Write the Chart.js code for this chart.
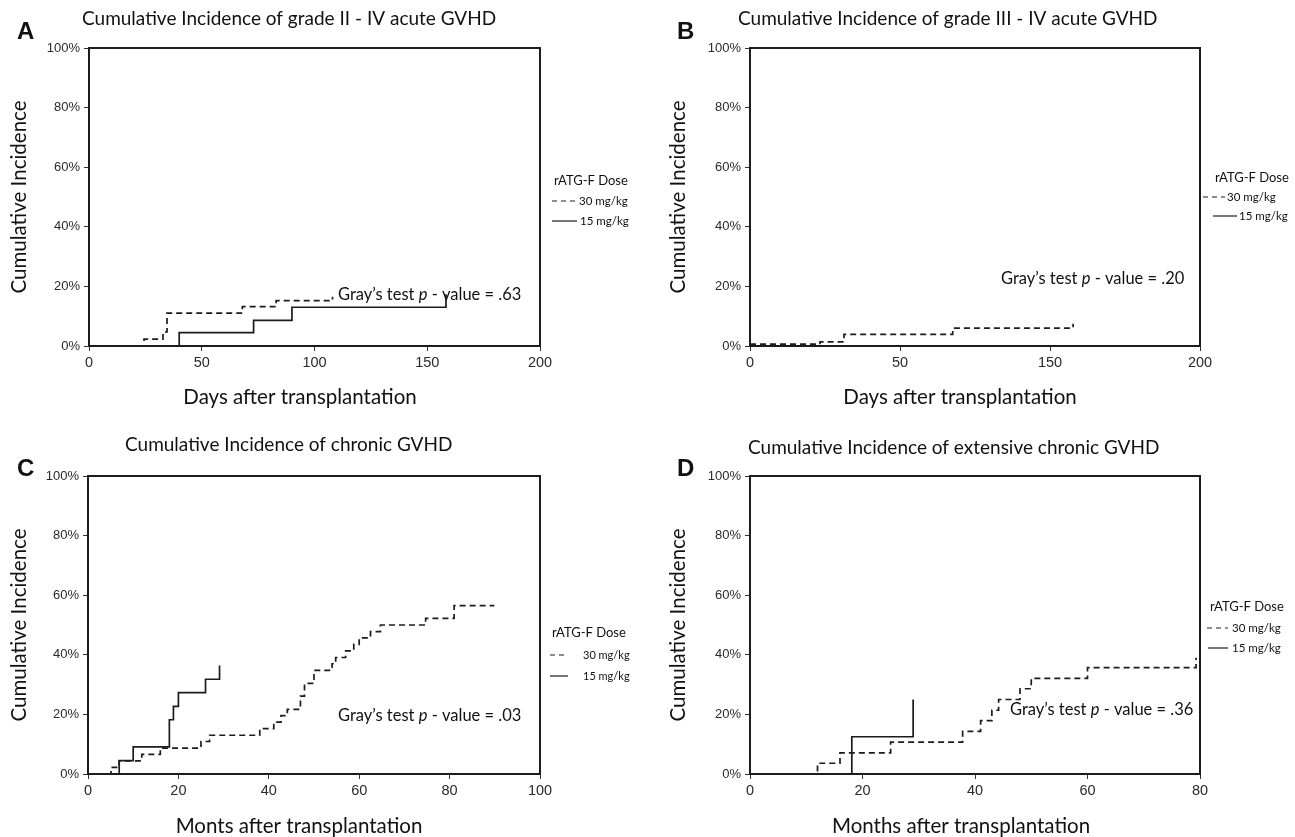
<!DOCTYPE html>
<html>
<head>
<meta charset="utf-8">
<title>Cumulative Incidence of GVHD</title>
<script src="https://cdn.jsdelivr.net/npm/chart.js@4.4.1/dist/chart.umd.min.js"></script>
<style>
  html, body { margin: 0; padding: 0; background: #fff; }
  #board { position: relative; width: 1295px; height: 837px; overflow: hidden; }
  #board canvas { position: absolute; }
</style>
</head>
<body>
<div id="board">
  <canvas id="panelA" width="648" height="418" style="left:0;top:0"></canvas>
  <canvas id="panelB" width="647" height="418" style="left:648px;top:0"></canvas>
  <canvas id="panelC" width="648" height="419" style="left:0;top:418px"></canvas>
  <canvas id="panelD" width="647" height="419" style="left:648px;top:418px"></canvas>
</div>
<script>
// Panel A - grade II-IV acute GVHD (days, %)
const aDays30 = [0, 24.4, 32.8, 34.6, 68, 83, 108];
const aCum30  = [0, 2.3, 4.7, 11, 13.2, 15.2, 16.5];
const aDays15 = [0, 40, 73, 90, 158.3];
const aCum15  = [0, 4.5, 8.6, 13, 17.4];

// Panel B - grade III-IV acute GVHD (axis units, %)
const bDays30 = [0, 31.1, 41.8, 90.1, 143.6];
const bCum30  = [0.6, 1.4, 3.9, 6, 7.5];
const bDays15 = [0, 143.6];
const bCum15  = [0, 0];
const bTickLabels = ['0', '50', '150', '200'];

// Panel C - chronic GVHD (months, %)
const cMonths30 = [0, 5.1, 6.9, 11.9, 16, 25, 26.9, 38, 41.1, 42.7, 44.1, 47, 47.9, 50, 54, 54.8, 57, 58.8, 60, 62.5, 64.7, 74.7, 81, 89.9];
const cCum30    = [0, 2.2, 4.4, 6.6, 8.7, 10.9, 13, 15.2, 17.4, 19.6, 21.7, 26.1, 30.4, 34.8, 37, 39.1, 41.3, 43.5, 45.7, 47.8, 50, 52.2, 56.5, 56.5];
const cMonths15 = [0, 6.9, 10, 18, 18.9, 20, 26, 29.1];
const cCum15    = [0, 4.5, 9.1, 18.2, 22.7, 27.3, 31.8, 36.4];

// Panel D - extensive chronic GVHD (months, %)
const dMonths30 = [0, 12, 16, 25, 37.8, 41, 43, 44.2, 48, 50, 60, 79.3];
const dCum30    = [0, 3.6, 7.1, 10.7, 14.3, 17.9, 21.4, 25, 28.6, 32.1, 35.7, 39];
const dMonths15 = [0, 18.1, 29];
const dCum15    = [0, 12.5, 25];

const doseLabels = ['30 mg/kg', '15 mg/kg'];
const legendTitle = 'rATG-F Dose';
const yTitle = 'Cumulative Incidence';
const pValues = ['.63', '.20', '.03', '.36'];
const yTicks = [0, 20, 40, 60, 80, 100];

const INK = '#1c1c1c';
const TEXT_FONT = 'Lato, "Open Sans", sans-serif';
const TICK_FONT = '"Liberation Sans", Arial, sans-serif';

// turn event times + cumulative values into a step path
function stepPoints(xs, ys) {
  const pts = [{ x: xs[0], y: ys[0] }];
  for (let i = 1; i < xs.length; i++) {
    pts.push({ x: xs[i], y: ys[i - 1] });
    pts.push({ x: xs[i], y: ys[i] });
  }
  return pts;
}

// frame, panel letter, title, x title, legend and test annotation
const panelText = {
  id: 'panelText',
  afterDraw(chart, args, o) {
    const ctx = chart.ctx;
    const a = chart.chartArea;
    ctx.save();
    ctx.strokeStyle = INK;
    ctx.lineWidth = 2;
    ctx.setLineDash([]);
    ctx.strokeRect(a.left, a.top, a.right - a.left, a.bottom - a.top);

    ctx.fillStyle = '#111';
    ctx.textBaseline = 'middle';
    ctx.textAlign = 'left';
    ctx.font = 'bold 24px "Liberation Sans", Arial, sans-serif';
    ctx.fillText(o.letter, o.letterPos[0], o.letterPos[1]);

    ctx.font = '19px ' + TEXT_FONT;
    ctx.fillText(o.title, o.titlePos[0], o.titlePos[1]);

    ctx.textAlign = 'center';
    ctx.font = '20.5px ' + TEXT_FONT;
    ctx.fillText(o.xTitle, o.xTitlePos[0], o.xTitlePos[1]);

    // legend
    ctx.textAlign = 'left';
    ctx.font = '13px ' + TEXT_FONT;
    ctx.fillText(legendTitle, o.legend.head[0], o.legend.head[1]);
    ctx.font = o.legend.itemFont + 'px ' + TEXT_FONT;
    chart.data.datasets.forEach((ds, i) => {
      const r = o.legend.rows[i];
      ctx.beginPath();
      ctx.setLineDash(ds.borderDash ? [5, 4] : []);
      ctx.lineWidth = 1.2;
      ctx.strokeStyle = INK;
      ctx.moveTo(r[0], r[3]);
      ctx.lineTo(r[1], r[3]);
      ctx.stroke();
      ctx.fillText(ds.label, r[2], r[3]);
    });
    ctx.setLineDash([]);

    // Gray's test with italic p
    const parts = [['Gray\u2019s test ', ''], ['p', 'italic '], [' - value = ' + o.p, '']];
    let x = o.pPos[0];
    parts.forEach(([t, style]) => {
      ctx.font = style + '16.5px ' + TEXT_FONT;
      ctx.fillText(t, x, o.pPos[1]);
      x += ctx.measureText(t).width;
    });
    ctx.restore();
  }
};

function buildPanel(id, cfg) {
  const canvas = document.getElementById(id);
  const W = canvas.width, H = canvas.height;
  const area = cfg.area;
  const xTicks = cfg.xTickLabels
    ? cfg.xTickLabels.map((_, i) => cfg.xMax * i / (cfg.xTickLabels.length - 1))
    : null;

  new Chart(canvas, {
    type: 'line',
    data: {
      datasets: [
        {
          label: doseLabels[0],
          data: stepPoints(cfg.x30, cfg.y30),
          borderDash: [6, 4],
          borderColor: INK,
          borderWidth: 1.7
        },
        {
          label: doseLabels[1],
          data: stepPoints(cfg.x15, cfg.y15),
          borderColor: INK,
          borderWidth: 1.7
        }
      ]
    },
    options: {
      responsive: false,
      animation: false,
      devicePixelRatio: 1,
      layout: { padding: { left: 0, top: area.top, right: W - area.right, bottom: 0 } },
      elements: { point: { radius: 0 }, line: { tension: 0 } },
      plugins: {
        legend: { display: false },
        tooltip: { enabled: false },
        panelText: cfg.text
      },
      scales: {
        x: {
          type: 'linear',
          min: 0,
          max: cfg.xMax,
          afterFit: s => { s.height = H - area.bottom; },
          afterBuildTicks: s => {
            if (xTicks) s.ticks = xTicks.map(v => ({ value: v }));
          },
          grid: { display: true, drawOnChartArea: false, tickLength: 5, color: '#333' },
          border: { display: true, color: INK, width: 2 },
          ticks: {
            stepSize: cfg.xStep,
            autoSkip: false,
            maxRotation: 0,
            padding: 3,
            color: '#2a2a2a',
            font: { family: TICK_FONT, size: 14.5 },
            callback: (v, i) => cfg.xTickLabels ? cfg.xTickLabels[i] : v
          }
        },
        y: {
          min: 0,
          max: 100,
          afterFit: s => { s.width = area.left; },
          afterBuildTicks: s => { s.ticks = yTicks.map(v => ({ value: v })); },
          grid: { display: true, drawOnChartArea: false, tickLength: 5, color: '#333' },
          border: { display: true, color: INK, width: 2 },
          ticks: {
            padding: 4,
            color: '#2a2a2a',
            font: { family: TICK_FONT, size: 13 },
            callback: v => v + '%'
          },
          title: {
            display: true,
            text: yTitle,
            color: '#111',
            font: { family: 'Lato, "Open Sans", sans-serif', size: 20.5 },
            padding: { top: cfg.yTitlePad }
          }
        }
      }
    },
    plugins: [panelText]
  });
}

buildPanel('panelA', {
  x30: aDays30, y30: aCum30, x15: aDays15, y15: aCum15,
  xMax: 200, xStep: 50,
  area: { left: 89, right: 540, top: 48, bottom: 346 },
  yTitlePad: 7,
  text: {
    letter: 'A', letterPos: [17, 32],
    title: 'Cumulative Incidence of grade II - IV acute GVHD', titlePos: [82, 19],
    xTitle: 'Days after transplantation', xTitlePos: [300, 397],
    legend: { head: [554, 181], itemFont: 11.5, rows: [[552, 577, 579, 201], [552, 577, 580, 221]] },
    p: pValues[0], pPos: [338, 295]
  }
});

buildPanel('panelB', {
  x30: bDays30, y30: bCum30, x15: bDays15, y15: bCum15,
  xMax: 200, xTickLabels: bTickLabels,
  area: { left: 102, right: 552, top: 48, bottom: 346 },
  yTitlePad: 18,
  text: {
    letter: 'B', letterPos: [29, 32],
    title: 'Cumulative Incidence of grade III - IV acute GVHD', titlePos: [90, 19],
    xTitle: 'Days after transplantation', xTitlePos: [312, 397],
    legend: { head: [567, 178], itemFont: 11.5, rows: [[555, 577, 579, 197], [565, 589, 591, 216]] },
    p: pValues[1], pPos: [353, 279]
  }
});

buildPanel('panelC', {
  x30: cMonths30, y30: cCum30, x15: cMonths15, y15: cCum15,
  xMax: 100, xStep: 20,
  area: { left: 88, right: 540, top: 58, bottom: 356 },
  yTitlePad: 7,
  text: {
    letter: 'C', letterPos: [17, 51],
    title: 'Cumulative Incidence of chronic GVHD', titlePos: [125, 27],
    xTitle: 'Monts after transplantation', xTitlePos: [299, 408],
    legend: { head: [552, 215], itemFont: 11, rows: [[550, 568, 583, 237], [550, 568, 583, 258]] },
    p: pValues[2], pPos: [338, 298]
  }
});

buildPanel('panelD', {
  x30: dMonths30, y30: dCum30, x15: dMonths15, y15: dCum15,
  xMax: 80, xStep: 20,
  area: { left: 102, right: 552, top: 58, bottom: 356 },
  yTitlePad: 18,
  text: {
    letter: 'D', letterPos: [29, 51],
    title: 'Cumulative Incidence of extensive chronic GVHD', titlePos: [100, 30],
    xTitle: 'Months after transplantation', xTitlePos: [313, 408],
    legend: { head: [562, 189], itemFont: 11.5, rows: [[559, 580, 584, 210], [560, 580, 584, 230]] },
    p: pValues[3], pPos: [362, 292]
  }
});
</script>
</body>
</html>
